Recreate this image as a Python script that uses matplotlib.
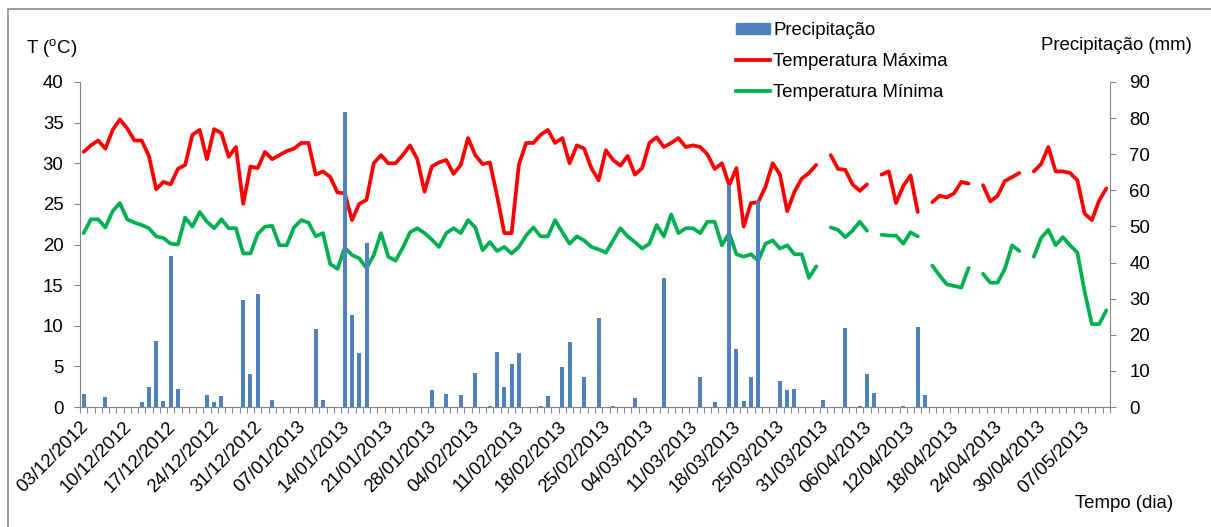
import numpy as np
import matplotlib
matplotlib.use('Agg')
import matplotlib.pyplot as plt
import matplotlib.transforms as mtransforms
from matplotlib.patches import Patch, Rectangle
from matplotlib.lines import Line2D

plt.rcParams['font.family'] = ['Liberation Sans', 'DejaVu Sans']
plt.rcParams['mathtext.fontset'] = 'custom'
plt.rcParams['mathtext.rm'] = 'Liberation Sans'

nan = np.nan
# temperatura maxima diaria (C), uma linha por dia de registro
tmax = [31.4, 32.2, 32.8, 31.8, 34.1, 35.4, 34.3, 32.8, 32.8, 30.9,
        26.8, 27.7, 27.4, 29.3, 29.8, 33.5, 34.1, 30.5, 34.2, 33.7,
        30.8, 32.0, 25.0, 29.6, 29.4, 31.4, 30.5, 31.0, 31.5, 31.8,
        32.5, 32.5, 28.6, 29.0, 28.3, 26.4, 26.3, 23.0, 25.0, 25.5,
        30.0, 31.0, 30.0, 30.0, 31.0, 32.2, 30.5, 26.5, 29.6, 30.1,
        30.4, 28.7, 29.8, 33.1, 31.0, 29.9, 30.1, 26.0, 21.4, 21.4,
        29.8, 32.5, 32.5, 33.5, 34.1, 32.5, 33.1, 30.0, 32.2, 31.8,
        29.4, 27.9, 31.6, 30.4, 29.7, 30.9, 28.6, 29.4, 32.5, 33.2,
        32.0, 32.5, 33.1, 32.0, 32.2, 32.0, 31.1, 29.3, 30.0, 27.3,
        29.4, 22.2, 25.1, 25.2, 27.1, 30.0, 28.6, 24.1, 26.5, 28.1,
        28.8, 29.8, nan, 31.0, 29.3, 29.2, 27.4, 26.6, 27.4, nan,
        28.6, 29.0, 25.1, 27.2, 28.5, 24.0, nan, 25.2, 26.0, 25.8,
        26.3, 27.7, 27.5, nan, 27.3, 25.3, 26.0, 27.8, 28.3, 28.8,
        nan, 29.0, 29.9, 32.0, 29.0, 29.0, 28.8, 27.9, 23.8, 23.0,
        25.4, 26.9]

tmin = [21.4, 23.1, 23.1, 22.1, 24.1, 25.1, 23.1, 22.7, 22.4, 22.0,
        21.0, 20.8, 20.1, 20.0, 23.3, 22.2, 24.0, 22.8, 22.0, 23.1,
        22.0, 22.0, 18.9, 18.9, 21.3, 22.2, 22.3, 19.9, 19.9, 22.1,
        23.0, 22.7, 21.0, 21.4, 17.6, 17.0, 19.6, 18.7, 18.3, 17.1,
        18.7, 21.4, 18.5, 18.0, 19.6, 21.5, 22.0, 21.4, 20.6, 19.7,
        21.4, 22.0, 21.4, 23.0, 22.1, 19.3, 20.3, 19.2, 19.7, 18.9,
        19.7, 21.1, 22.1, 21.0, 21.0, 23.0, 21.5, 20.1, 21.0, 20.5,
        19.7, 19.4, 19.0, 20.5, 22.0, 21.0, 20.3, 19.5, 20.1, 22.4,
        21.0, 23.7, 21.4, 22.0, 22.0, 21.4, 22.8, 22.8, 19.9, 21.4,
        18.8, 18.5, 18.8, 18.0, 20.1, 20.5, 19.5, 19.9, 18.8, 18.8,
        15.9, 17.3, nan, 22.1, 21.8, 20.9, 21.7, 22.8, 21.7, nan,
        21.2, 21.1, 21.1, 20.1, 21.5, 21.0, nan, 17.4, 16.2, 15.1,
        14.9, 14.7, 17.1, nan, 16.4, 15.3, 15.3, 17.0, 19.9, 19.2,
        nan, 18.5, 20.8, 21.8, 19.9, 20.9, 19.9, 19.0, 14.2, 10.2,
        10.2, 11.9]

# precipitacao diaria (mm)
precip = [3.6, 0, 0, 2.7, 0, 0, 0, 0, 1.3, 5.5,
          18.4, 1.7, 41.8, 5.0, 0, 0, 0, 3.3, 1.3, 3.0,
          0, 0, 29.7, 9.1, 31.4, 0, 1.9, 0, 0, 0,
          0, 0, 21.6, 1.9, 0, 0, 81.6, 25.5, 15.0, 45.3,
          0, 0, 0, 0, 0, 0, 0, 0, 4.6, 0,
          3.6, 0, 3.3, 0, 9.5, 0, 0.3, 15.3, 5.5, 11.8,
          15.0, 0, 0, 0.3, 3.0, 0, 11.1, 18.0, 0, 8.2,
          0, 24.6, 0, 0.3, 0, 0, 2.6, 0, 0, 0,
          35.6, 0, 0, 0, 0, 8.2, 0, 1.3, 0, 61.5,
          16.1, 1.7, 8.2, 57.0, 0, 0, 7.2, 4.7, 5.0, 0,
          0, 0, 1.9, 0, 0, 21.8, 0, 0.3, 9.1, 3.9,
          0, 0, 0, 0.3, 0, 22.2, 3.3, 0, 0, 0,
          0, 0, 0, 0, 0, 0, 0, 0, 0, 0,
          0, 0, 0, 0, 0, 0, 0, 0, 0, 0,
          0, 0]

datas = ['03/12/2012', '10/12/2012', '17/12/2012', '24/12/2012', '31/12/2012',
         '07/01/2013', '14/01/2013', '21/01/2013', '28/01/2013', '04/02/2013',
         '11/02/2013', '18/02/2013', '25/02/2013', '04/03/2013', '11/03/2013',
         '18/03/2013', '25/03/2013', '31/03/2013', '06/04/2013', '12/04/2013',
         '18/04/2013', '24/04/2013', '30/04/2013', '07/05/2013']

W, H = 1211, 527
n = len(tmax)
x = np.arange(n)
cinza = '#868686'
fs = 13.4
lw = 2.7

fig = plt.figure(figsize=(W / 100, H / 100), dpi=100)
ax = fig.add_axes([80 / W, 1 - 407 / H, 1030 / W, 325 / H])
ax2 = ax.twinx()

ax.plot(x, tmax, color='#FF0000', lw=lw, solid_joinstyle='round', solid_capstyle='round')
ax.plot(x, tmin, color='#00B050', lw=lw, solid_joinstyle='round', solid_capstyle='round')
ax2.bar(x, precip, width=0.55, color='#4F81BD')

ax.set_xlim(-0.5, n - 0.5)
ax.set_ylim(0, 40)
ax2.set_ylim(0, 90)
ax.set_yticks(range(0, 41, 5))
ax2.set_yticks(range(0, 91, 10))

ax.set_xticks(np.arange(-0.5, n, 1))
ax.set_xticklabels([])
ax.set_xticks(np.arange(0, n, 6), minor=True)
ax.set_xticklabels(datas, minor=True, rotation=45, ha='right',
                   rotation_mode='anchor', fontsize=fs)
ax.tick_params(axis='x', which='major', length=4.3, color=cinza, width=0.8)
ax.tick_params(axis='x', which='minor', length=0, pad=6)
ax.tick_params(axis='y', length=4.3, color=cinza, width=0.8, pad=7.5, labelsize=fs)
ax2.tick_params(axis='y', length=4.3, color=cinza, width=0.8, pad=9.5, labelsize=fs)

# empurra os rotulos de data um pouco para a esquerda e para baixo
desloc = mtransforms.ScaledTranslation(-4 / 100, -3 / 100, fig.dpi_scale_trans)
for lab in ax.get_xticklabels(minor=True):
    lab.set_transform(lab.get_transform() + desloc)

for s in ['top', 'right']:
    ax.spines[s].set_visible(False)
for s in ['top', 'left', 'bottom']:
    ax2.spines[s].set_visible(False)
ax.spines['left'].set_color(cinza)
ax.spines['bottom'].set_color(cinza)
ax2.spines['right'].set_color(cinza)

fig.text(26 / W, 1 - 48 / H, r'T ($\mathrm{^{o}}$C)', fontsize=fs, va='center', ha='left')
fig.text(1041 / W, 1 - 45 / H, 'Precipitação (mm)', fontsize=fs, va='center', ha='left')
fig.text(1075 / W, 1 - 503 / H, 'Tempo (dia)', fontsize=fs, va='center', ha='left')

handles = [Patch(color='#4F81BD'),
           Line2D([], [], color='#FF0000', lw=lw),
           Line2D([], [], color='#00B050', lw=lw)]
fig.legend(handles, ['Precipitação', 'Temperatura Máxima', 'Temperatura Mínima'],
           loc='upper left', bbox_to_anchor=(736 / W, 1 - 22 / H), frameon=False,
           fontsize=fs, handlelength=1.8, handleheight=0.55, handletextpad=0.2,
           labelspacing=0.75, borderpad=0, borderaxespad=0)

fig.add_artist(Rectangle((7.5 / W, -0.1), 1.2, 1.1 - 9 / H, transform=fig.transFigure,
                         fill=False, ec='#8C8C8C', lw=1.2))

fig.savefig('out.png', dpi=100)
